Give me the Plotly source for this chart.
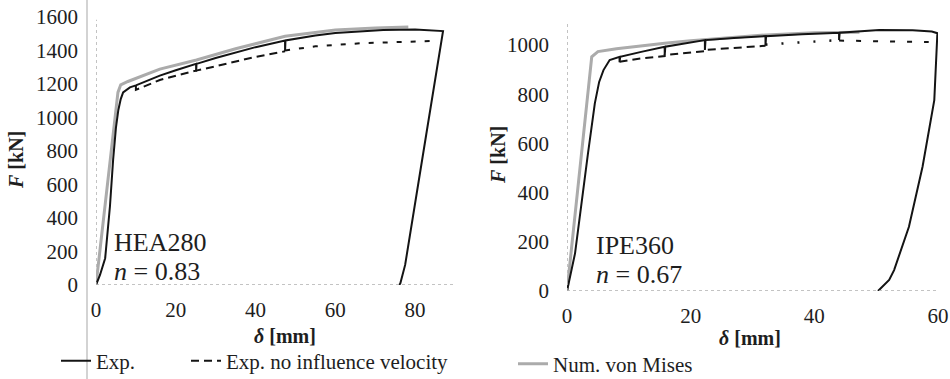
import plotly.graph_objects as go

# ---------------- data: HEA280 (left) ----------------
hea_exp_x = [0, 1.0, 2.3, 3.5, 4.3, 5.0, 5.6, 6.2, 6.8, 8.5, 10, 16, 20, 25.1, 25.1, 25.2,
             30, 35, 40, 47.4, 47.4, 47.5, 55, 60, 66, 72, 80, 85, 87,
             82.8, 79.8, 77.5, 76.3, 76]
hea_exp_f = [0, 60, 160, 470, 750, 940, 1045, 1110, 1150, 1180, 1192, 1250, 1282, 1320, 1274, 1320,
             1355, 1388, 1420, 1460, 1397, 1460, 1490, 1505, 1513, 1522, 1526, 1522, 1516,
             900, 450, 120, 10, 0]
hea_novel_x1 = [10, 10, 16, 20, 25.1, 30, 35, 40, 47.4]
hea_novel_f1 = [1192, 1165, 1224, 1250, 1280, 1306, 1335, 1362, 1395]
hea_novel_x2 = [47.4, 55, 66.2, 75, 84.1]
hea_novel_f2 = [1400, 1425, 1443, 1452, 1457]
hea_num_x = [0, 5.5, 6.2, 8, 16, 25.2, 35, 47.4, 60, 70, 78.3]
hea_num_f = [0, 1150, 1195, 1215, 1289, 1343, 1410, 1485, 1522, 1535, 1540]

# ---------------- data: IPE360 (right) ----------------
ipe_exp_x = [0, 1.3, 3.4, 4.5, 5.2, 5.9, 6.9, 8.0, 8.5, 8.5, 8.6, 12, 15.8, 15.8, 15.9,
             22.3, 22.3, 22.4, 27, 32.1, 32.1, 32.2, 38, 44, 44, 44.1, 50.5, 55.9, 59, 59.9,
             59.4, 57.5, 55.3, 53.2, 52.9, 52.1, 50.3]
ipe_exp_f = [0, 153, 560, 763, 850, 898, 939, 950, 952, 930, 952, 972, 993, 959, 993,
             1020, 980, 1020, 1028, 1036, 997, 1036, 1044, 1050, 1020, 1050, 1061, 1060, 1055, 1048,
             776, 505, 261, 113, 85, 45, 0]
ipe_novel_x1 = [8.5, 12, 15.8, 15.8, 22.3, 22.3, 32.1]
ipe_novel_f1 = [932, 946, 955, 959, 975, 980, 997]
ipe_novel_x2 = [32.1, 38, 44]
ipe_novel_f2 = [1002, 1010, 1020]
ipe_novel_x3 = [44, 50, 58.5]
ipe_novel_f3 = [1018, 1015, 1012]
ipe_num_x = [0, 4.0, 5.0, 8, 15.8, 20, 32.2, 40, 47.3]
ipe_num_f = [0, 952, 973, 985, 1007, 1017, 1041, 1050, 1052]

x_ticks_left = [0, 20, 40, 60, 80]
y_ticks_left = [0, 200, 400, 600, 800, 1000, 1200, 1400, 1600]
x_ticks_right = [0, 20, 40, 60]
y_ticks_right = [0, 200, 400, 600, 800, 1000]

BLACK = "#141414"
GRAY = "#ababab"
SERIF = "Liberation Serif"

fig = go.Figure()

# left panel
fig.add_trace(go.Scatter(x=hea_num_x, y=hea_num_f, mode="lines", xaxis="x", yaxis="y",
                         line=dict(color=GRAY, width=3), showlegend=False, hoverinfo="skip"))
fig.add_trace(go.Scatter(x=hea_novel_x1, y=hea_novel_f1, mode="lines", xaxis="x", yaxis="y",
                         line=dict(color=BLACK, width=2, dash="8px,5px"),
                         name="Exp. no influence velocity", legend="legend3", showlegend=True))
fig.add_trace(go.Scatter(x=hea_novel_x2, y=hea_novel_f2, mode="lines", xaxis="x", yaxis="y",
                         line=dict(color=BLACK, width=2, dash="5px,9px"), showlegend=False))
fig.add_trace(go.Scatter(x=hea_exp_x, y=hea_exp_f, mode="lines", xaxis="x", yaxis="y",
                         line=dict(color=BLACK, width=2), name="Exp.", showlegend=True))

# right panel
fig.add_trace(go.Scatter(x=ipe_num_x, y=ipe_num_f, mode="lines", xaxis="x2", yaxis="y2",
                         line=dict(color=GRAY, width=3), name="Num. von Mises",
                         legend="legend2", showlegend=True))
fig.add_trace(go.Scatter(x=ipe_novel_x1, y=ipe_novel_f1, mode="lines", xaxis="x2", yaxis="y2",
                         line=dict(color=BLACK, width=2, dash="8px,5px"), showlegend=False))
fig.add_trace(go.Scatter(x=ipe_novel_x2, y=ipe_novel_f2, mode="lines", xaxis="x2", yaxis="y2",
                         line=dict(color=BLACK, width=2.5, dash="2px,14px"), showlegend=False))
fig.add_trace(go.Scatter(x=ipe_novel_x3, y=ipe_novel_f3, mode="lines", xaxis="x2", yaxis="y2",
                         line=dict(color=BLACK, width=2, dash="5px,12px"), showlegend=False))
fig.add_trace(go.Scatter(x=ipe_exp_x, y=ipe_exp_f, mode="lines", xaxis="x2", yaxis="y2",
                         line=dict(color=BLACK, width=2), showlegend=False))

tickfont = dict(family=SERIF, size=21, color="#1e1e1e")
common = dict(showgrid=False, zeroline=False, showline=False, ticks="", tickfont=tickfont,
              automargin=False)
legfont = dict(family=SERIF, size=21, color="#1e1e1e")

W, H = 950, 379
fig.update_layout(
    width=W, height=H, margin=dict(l=0, r=0, t=0, b=0, pad=0, autoexpand=False),
    paper_bgcolor="white", plot_bgcolor="white",
    font=dict(family=SERIF),
    xaxis=dict(domain=[96 / W, 455 / W], range=[0, 90], tickvals=x_ticks_left,
               anchor="y", ticklabelstandoff=10, **common),
    yaxis=dict(domain=[1 - 285 / H, 1 - 17 / H], range=[0, 1600], tickvals=y_ticks_left,
               anchor="x", ticklabelstandoff=17, **common),
    xaxis2=dict(domain=[567 / W, 938 / W], range=[0, 60], tickvals=x_ticks_right,
                anchor="y2", ticklabelstandoff=10, **common),
    yaxis2=dict(domain=[1 - 291 / H, 1 - 20.4 / H], range=[0, 1100], tickvals=y_ticks_right,
                anchor="x2", ticklabelstandoff=17, **common),
    legend=dict(orientation="h", x=56 / W, xanchor="left", y=1 - 361 / H, yanchor="middle",
                font=legfont, bgcolor="rgba(0,0,0,0)"),
    legend3=dict(orientation="h", x=186 / W, xanchor="left", y=1 - 361 / H, yanchor="middle",
                 font=legfont, bgcolor="rgba(0,0,0,0)"),
    legend2=dict(orientation="h", x=513 / W, xanchor="left", y=1 - 364 / H, yanchor="middle",
                 font=legfont, bgcolor="rgba(0,0,0,0)"),
)

# dotted light axis lines
axis_line = dict(color="#b0b0b0", width=1.5, dash="dot")
fig.add_shape(type="line", xref="x domain", yref="y", x0=0, x1=1, y0=0, y1=0, line=axis_line)
fig.add_shape(type="line", xref="x", yref="y domain", x0=0, x1=0, y0=0, y1=0.99, line=axis_line)
fig.add_shape(type="line", xref="x2 domain", yref="y2", x0=0, x1=1, y0=0, y1=0, line=axis_line)
fig.add_shape(type="line", xref="x2", yref="y2 domain", x0=0, x1=0, y0=0, y1=0.99, line=axis_line)
# scan border line
fig.add_shape(type="line", xref="paper", yref="paper", x0=87 / W, x1=87 / W, y0=0, y1=1,
              line=dict(color="#c4c4c4", width=1.5))

title_font = dict(family=SERIF, size=20, color="#1e1e1e")
label_font = dict(family=SERIF, size=26, color="#1e1e1e")
ann = [
    dict(text="<b><i>F</i> [kN]</b>", x=16 / W, y=1 - 160 / H, textangle=-90, font=title_font),
    dict(text="<b><i>F</i> [kN]</b>", x=498 / W, y=1 - 155 / H, textangle=-90, font=title_font),
    dict(text="<b><i>δ</i> [mm]</b>", x=285 / W, y=1 - 336 / H, font=title_font),
    dict(text="<b><i>δ</i> [mm]</b>", x=750 / W, y=1 - 338 / H, font=title_font),
    dict(text="HEA280", x=112 / W, y=1 - 242 / H, xanchor="left", font=label_font),
    dict(text="<i>n</i> = 0.83", x=112 / W, y=1 - 271 / H, xanchor="left", font=label_font),
    dict(text="IPE360", x=594 / W, y=1 - 245 / H, xanchor="left", font=label_font),
    dict(text="<i>n</i> = 0.67", x=594 / W, y=1 - 274 / H, xanchor="left", font=label_font),
]
for a in ann:
    a.setdefault("xanchor", "center")
    fig.add_annotation(xref="paper", yref="paper", showarrow=False, yanchor="middle", **a)

fig.write_html("out.html")
